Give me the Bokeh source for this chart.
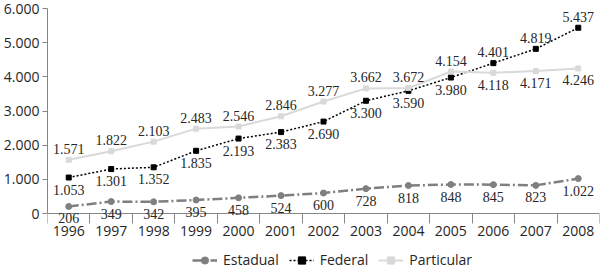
from bokeh.plotting import figure
from bokeh.layouts import column
from bokeh.models import ColumnDataSource, FixedTicker, Legend, LegendItem, Range1d, LabelSet
from bokeh.embed import file_html
from bokeh.resources import INLINE

years = ["1996", "1997", "1998", "1999", "2000", "2001", "2002",
         "2003", "2004", "2005", "2006", "2007", "2008"]
estadual = [206, 349, 342, 395, 458, 524, 600, 728, 818, 848, 845, 823, 1022]
federal = [1053, 1301, 1352, 1835, 2193, 2383, 2690, 3300, 3590, 3980, 4401, 4819, 5437]
particular = [1571, 1822, 2103, 2483, 2546, 2846, 3277, 3662, 3672, 4154, 4118, 4171, 4246]
y_ticks = [0, 1000, 2000, 3000, 4000, 5000, 6000]

# label side per point (style)
estadual_side = ["below"] * 13
federal_side = ["below"] * 10 + ["above"] * 3
particular_side = ["above"] * 10 + ["below"] * 3

FONT = "Open Sans"
TXT = "#262626"


def fmt(v):
    return f"{v:,}".replace(",", ".")


# frame runs from y=8 to y=245; value 0 sits at y=213, 6000 at y=8
Y_MIN = -6000 * 32 / 205

p = figure(width=600, height=245, output_backend="svg", toolbar_location=None,
           min_border_left=45, min_border_right=1, min_border_top=8, min_border_bottom=0)
p.x_range = Range1d(-0.5, len(years) - 0.5)
p.y_range = Range1d(Y_MIN, 6000)
p.outline_line_color = None
p.xgrid.grid_line_color = None
p.ygrid.grid_line_color = None
p.background_fill_color = "white"
p.border_fill_color = "white"

xs = list(range(len(years)))

# x axis, pinned to value 0
p.xaxis.fixed_location = 0
p.xaxis.ticker = FixedTicker(ticks=xs, minor_ticks=[i - 0.5 for i in range(len(years) + 1)])
p.xaxis.major_label_overrides = {i: y for i, y in enumerate(years)}
p.xaxis.major_tick_line_color = None
p.xaxis.major_tick_out = 0
p.xaxis.major_tick_in = 0
p.xaxis.minor_tick_out = 10
p.xaxis.minor_tick_in = 0
p.xaxis.minor_tick_line_color = "#868686"
p.xaxis.axis_line_color = "#868686"
p.xaxis.major_label_standoff = 2
p.xaxis.major_label_text_font = FONT
p.xaxis.major_label_text_font_size = "14px"
p.xaxis.major_label_text_color = TXT

# y axis
p.yaxis.ticker = FixedTicker(ticks=y_ticks, minor_ticks=[])
p.yaxis.major_label_overrides = {t: fmt(t) for t in y_ticks}
p.yaxis.major_tick_out = 5
p.yaxis.major_tick_in = 0
p.yaxis.major_tick_line_color = "#868686"
p.yaxis.axis_line_color = "#868686"
p.yaxis.major_label_standoff = 3
p.yaxis.major_label_text_font = FONT
p.yaxis.major_label_text_font_size = "14px"
p.yaxis.major_label_text_color = TXT
p.yaxis.bounds = (0, 6000)

series = [
    ("Estadual", estadual, estadual_side, "#7f7f7f", "10 3 2 3", 2.5, "circle", 6),
    ("Federal", federal, federal_side, "#000000", "2 2", 1.5, "square", 5),
    ("Particular", particular, particular_side, "#d9d9d9", "solid", 2.0, "square", 5),
]

# legend strip below the chart
lf = figure(width=600, height=26, output_backend="svg", toolbar_location=None,
            min_border=0, x_axis_type=None, y_axis_type=None)
lf.x_range = Range1d(0, 1)
lf.y_range = Range1d(0, 1)
lf.outline_line_color = None
lf.xgrid.grid_line_color = None
lf.ygrid.grid_line_color = None

items = []
for name, vals, side, color, dash, lw, marker, msize in series:
    src = ColumnDataSource(dict(x=xs, y=vals))
    p.line("x", "y", source=src, line_color=color, line_width=lw, line_dash=dash)
    p.scatter("x", "y", source=src, marker=marker, size=msize,
              fill_color=color, line_color=color)
    proxy = ColumnDataSource(dict(x=[float("nan")], y=[float("nan")]))
    r1 = lf.line("x", "y", source=proxy, line_color=color, line_width=lw, line_dash=dash)
    r2 = lf.scatter("x", "y", source=proxy, marker=marker, size=msize,
                    fill_color=color, line_color=color)
    items.append(LegendItem(label=name, renderers=[r1, r2]))
    for which, off in (("above", 11), ("below", -12)):
        idx = [i for i, s in enumerate(side) if s == which]
        if not idx:
            continue
        lsrc = ColumnDataSource(dict(x=[xs[i] for i in idx], y=[vals[i] for i in idx],
                                     t=[fmt(vals[i]) for i in idx]))
        labels = LabelSet(x="x", y="y", text="t", source=lsrc, text_align="center",
                          text_baseline="middle", y_offset=off, text_font=FONT,
                          text_font_size="14px", text_color=TXT)
        p.add_layout(labels)

legend = Legend(items=items, orientation="horizontal", location=(145, 2),
                border_line_color=None, background_fill_alpha=0,
                padding=0, margin=0, spacing=10, glyph_width=25, glyph_height=18,
                label_standoff=6, label_text_font=FONT, label_text_font_size="14px",
                label_text_color=TXT, label_height=18)
lf.add_layout(legend, "center")

layout = column(p, lf, spacing=0)
open("out.html", "w").write(file_html(layout, INLINE))
